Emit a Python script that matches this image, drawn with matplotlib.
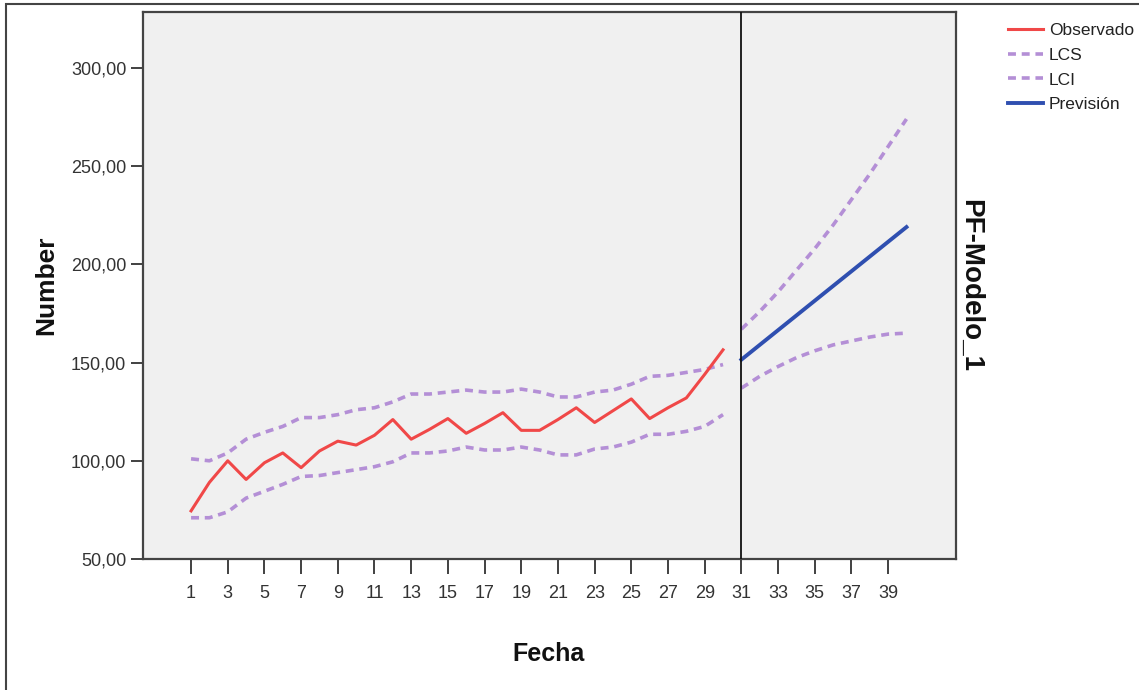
import matplotlib
matplotlib.use("Agg")
import matplotlib.pyplot as plt
from matplotlib.patches import Rectangle

# ---- data ----
obs_x = list(range(1, 31))
observado = [74.5, 89, 100, 90.5, 99, 104, 96.5, 105, 110, 108, 113, 121, 111, 116, 121.5,
             114, 119, 124.5, 115.5, 115.5, 121, 127, 119.5, 125.5, 131.5, 121.5, 127, 132, 144, 156.5]
lcs_obs = [101, 100, 104, 111, 114.5, 117.5, 122, 122, 123.5, 126, 127, 130, 134, 134, 135,
           136, 135, 135, 136.5, 135, 132.5, 132.5, 135, 136, 139, 143, 143.5, 145, 146.5, 149]
lci_obs = [71, 71, 74, 81, 84.5, 88, 92, 92.5, 94, 95.5, 97, 99.5, 104, 104, 105,
           107, 105.5, 105.5, 107, 105.5, 103, 103, 106, 107, 109.5, 113.5, 113.5, 115, 117.5, 123.5]

fc_x = list(range(31, 41))
prevision = [151.5, 159, 166.5, 174, 181.5, 189, 196.5, 204, 211.5, 219]
lcs_fc = [167, 176, 186, 197, 208, 220, 233, 246, 260, 274]
lci_fc = [137, 143, 148, 152.5, 156, 159, 161, 163, 164.5, 165]

xticks = list(range(1, 40, 2))
yticks = [50, 100, 150, 200, 250, 300]
ytick_labels = ["50,00", "100,00", "150,00", "200,00", "250,00", "300,00"]

# ---- style ----
narrow = ['Liberation Sans Narrow', 'Liberation Sans', 'DejaVu Sans']
boldf = ['Liberation Sans', 'DejaVu Sans']
red = '#f04848'
purple = '#b48fd6'
blue = '#2f4fb0'
dash = (0, (2.2, 1.6))

W, H = 1139, 690
fig = plt.figure(figsize=(W / 100, H / 100), dpi=100)
fig.patch.set_facecolor('white')

# outer frame
fig.add_artist(Rectangle((6 / W, -0.01), 1.02, 1 - 4 / H + 0.01, transform=fig.transFigure,
                         fill=False, edgecolor='#444444', linewidth=1.5))

ax = fig.add_axes([143 / W, 1 - 559 / H, (956 - 143) / W, (559 - 12) / H])
ax.set_facecolor('#f0f0f0')

ax.plot(obs_x, lcs_obs, color=purple, lw=2.6, ls=dash, label='LCS', zorder=2)
ax.plot(obs_x, lci_obs, color=purple, lw=2.6, ls=dash, label='LCI', zorder=2)
ax.plot(fc_x, lcs_fc, color=purple, lw=2.6, ls=dash, zorder=2)
ax.plot(fc_x, lci_fc, color=purple, lw=2.6, ls=dash, zorder=2)
ax.plot(obs_x, observado, color=red, lw=2.2, label='Observado', zorder=3)
ax.plot(fc_x, prevision, color=blue, lw=2.8, label='Previsión', zorder=3)
ax.axvline(31, color='#111111', lw=1.3, zorder=4)

ax.set_xlim(-1.62, 42.7)
ax.set_ylim(50, 328.5)
ax.set_xticks(xticks)
ax.set_xticklabels([str(t) for t in xticks], fontfamily=narrow, fontsize=13, color='#333333')
ax.set_yticks(yticks)
ax.set_yticklabels(ytick_labels, fontfamily=narrow, fontsize=13, color='#333333')
ax.tick_params(axis='x', direction='out', length=11, width=1.3, color='#333333', pad=8)
ax.tick_params(axis='y', direction='out', length=9, width=1.3, color='#333333', pad=3)
for s in ax.spines.values():
    s.set_color('#444444')
    s.set_linewidth(1.6)

# legend
handles, labels = ax.get_legend_handles_labels()
order = ['Observado', 'LCS', 'LCI', 'Previsión']
hmap = dict(zip(labels, handles))
leg = fig.legend([hmap[o] for o in order], order, loc='upper left',
                 bbox_to_anchor=(1001 / W, 1 - 16 / H), frameon=False,
                 prop={'family': narrow, 'size': 12.5}, handlelength=2.0,
                 handletextpad=0.35, labelspacing=0.55, borderaxespad=0)
for t in leg.get_texts():
    t.set_color('#222222')

fig.text(46 / W, 1 - 285 / H, 'Number', rotation=90, ha='center', va='center',
         fontfamily=boldf, fontweight='bold', fontsize=19, color='#111111')
fig.text(549 / W, 1 - 654 / H, 'Fecha', ha='center', va='center',
         fontfamily=boldf, fontweight='bold', fontsize=18, color='#111111')
fig.text(970 / W, 1 - 285 / H, 'PF-Modelo_1', rotation=-90, ha='center', va='center',
         fontfamily=boldf, fontweight='bold', fontsize=20, color='#111111')

fig.savefig('out.png', dpi=100, facecolor='white')
